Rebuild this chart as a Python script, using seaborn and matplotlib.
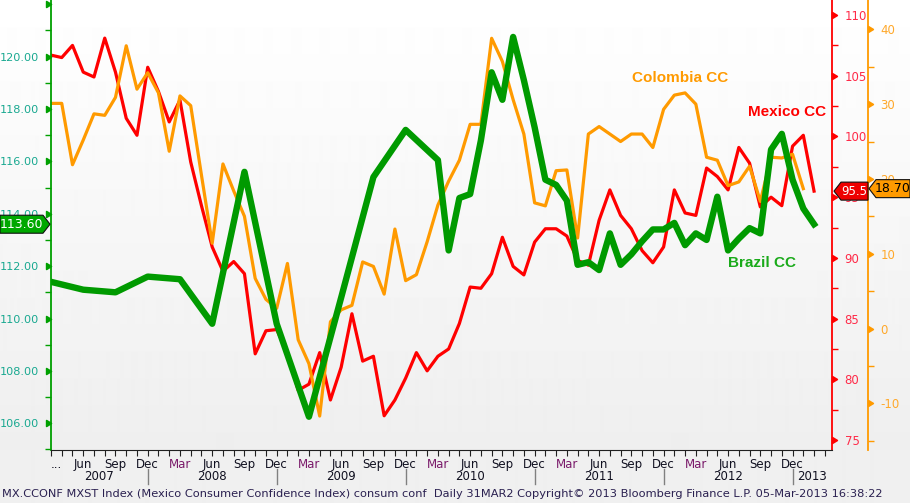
import numpy as np
import pandas as pd
import seaborn as sns
import matplotlib.pyplot as plt
import matplotlib.transforms as mtransforms
from matplotlib.path import Path
from matplotlib.patches import Polygon

# monthly observations, Mar 2007 .. Feb 2013 (month index 0 = Mar 2007)
mexico_cc = [106.7, 106.5, 107.5, 105.3, 104.9, 108.1, 105.3, 101.5, 100.1, 105.7,
             103.7, 101.2, 103.0, 97.9, 94.3, 90.9, 88.9, 89.7, 88.7, 82.1,
             84.0, 84.1, 82.2, 79.1, 79.6, 82.2, 78.3, 81.0, 85.4, 81.5,
             81.9, 77.0, 78.3, 80.1, 82.2, 80.7, 81.9, 82.5, 84.6, 87.6,
             87.5, 88.7, 91.7, 89.3, 88.6, 91.3, 92.4, 92.4, 91.8, 89.8,
             89.4, 93.1, 95.6, 93.5, 92.4, 90.6, 89.6, 90.9, 95.6, 93.7,
             93.5, 97.4, 96.7, 95.6, 99.1, 97.8, 94.2, 95.0, 94.3, 99.2,
             100.1, 95.5]

colombia_cc = [30.1, 30.1, 21.9, 25.2, 28.7, 28.5, 30.9, 37.8, 32.0, 34.2,
               31.5, 23.7, 31.1, 29.8, 20.5, 11.4, 22.0, 18.4, 15.0, 6.7,
               3.9, 2.7, 8.7, -1.5, -4.7, -11.7, 0.9, 2.5, 3.1, 8.9,
               8.3, 4.6, 13.3, 6.4, 7.2, 11.6, 16.5, 19.7, 22.5, 27.3,
               27.3, 38.8, 35.7, 30.6, 26.0, 16.8, 16.4, 21.1, 21.2, 12.1,
               26.0, 27.0, 26.0, 25.0, 26.0, 26.0, 24.2, 29.3, 31.2, 31.5,
               30.0, 22.9, 22.5, 19.1, 19.6, 21.7, 17.0, 22.9, 22.8, 23.3,
               18.7]

# Brazil is quarterly until Mar 2010, monthly after
brazil_months = [0, 3, 6, 9, 12, 15, 18, 21, 24, 27, 30, 33, 36, 37, 38, 39, 40,
                 41, 42, 43, 44, 45, 46, 47, 48, 49, 50, 51, 52, 53, 54, 55, 56,
                 57, 58, 59, 60, 61, 62, 63, 64, 65, 66, 67, 68, 69, 70, 71]
brazil_cc = [111.4, 111.1, 111.0, 111.6, 111.5, 109.8, 115.6, 109.8, 106.25, 110.8,
             115.4, 117.2, 116.05, 112.6, 114.6, 114.75, 116.8, 119.4, 118.35, 120.75,
             119.1, 117.3, 115.3, 115.1, 114.5, 112.05, 112.15, 111.85, 113.25, 112.05,
             112.45, 112.95, 113.4, 113.4, 113.65, 112.8, 113.25, 113.0, 114.65, 112.6,
             113.05, 113.45, 113.25, 116.45, 117.05, 115.3, 114.2, 113.6]

month_names = ['Mar', 'Jun', 'Sep', 'Dec']
year_labels = ['2007', '2008', '2009', '2010', '2011', '2012', '2013']

footer = ('MX.CCONF MXST Index (Mexico Consumer Confidence Index) consum conf  '
          'Daily 31MAR2 Copyright\u00a9 2013 Bloomberg Finance L.P. 05-Mar-2013 16:38:22')

GREEN, RED, ORANGE = '#009a00', '#ff0000', '#ff9a00'

mx_df = pd.DataFrame({'month': range(len(mexico_cc)), 'value': mexico_cc})
co_df = pd.DataFrame({'month': range(len(colombia_cc)), 'value': colombia_cc})
br_df = pd.DataFrame({'month': brazil_months, 'value': brazil_cc})

plt.rcParams['font.family'] = 'DejaVu Sans'
plt.rcParams['axes.unicode_minus'] = False
fig = plt.figure(figsize=(9.1, 5.03), dpi=100)
W, H = 910, 503

# background gradient
bg = fig.add_axes([0, 0, 1, 1], zorder=-10)
rows = np.arange(H)
shade = np.where(rows < 450, 1.0 - 0.065 * rows / 450, 0.94)
bg.imshow(shade[:, None], aspect='auto', cmap='gray', vmin=0, vmax=1,
          extent=(0, 1, 0, 1), interpolation='bilinear')
bg.axis('off')

ax = fig.add_axes([51 / W, 1 - 450 / H, 781 / W, 450 / H])
ax_mx = ax.twinx()
ax_co = ax.twinx()
ax_co.spines['right'].set_position(('axes', 1 + 36 / 781))
ax.set_zorder(ax_co.get_zorder() + 1)
ax.patch.set_visible(False)

sns.lineplot(data=co_df, x='month', y='value', ax=ax_co, color=ORANGE, linewidth=2.3)
sns.lineplot(data=mx_df, x='month', y='value', ax=ax_mx, color=RED, linewidth=2.3)
sns.lineplot(data=br_df, x='month', y='value', ax=ax, color=GREEN, linewidth=4.6)

ax.set_xlim(0, 72.67)
ax.set_ylim(104.98, 122.16)
ax_mx.set_ylim(74.18, 111.24)
ax_co.set_ylim(-16.24, 43.92)
for a in (ax, ax_mx, ax_co):
    a.set_xlabel('')
    a.set_ylabel('')

for s in ['top', 'right']:
    ax.spines[s].set_visible(False)
ax.spines['left'].set_color('#00a000')
ax.spines['left'].set_linewidth(1.3)
ax.spines['bottom'].set_color('#202020')
for a, col in ((ax_mx, RED), (ax_co, ORANGE)):
    for s in ['top', 'left', 'bottom']:
        a.spines[s].set_visible(False)
    a.spines['right'].set_color(col)
    a.spines['right'].set_linewidth(1.3)

# y ticks
tri_in = Path([(-1, -0.6), (0, 0), (-1, 0.6), (-1, -0.6)],
              [Path.MOVETO, Path.LINETO, Path.LINETO, Path.CLOSEPOLY])
tri_out = Path([(0, -0.6), (1, 0), (0, 0.6), (0, -0.6)],
               [Path.MOVETO, Path.LINETO, Path.LINETO, Path.CLOSEPOLY])

ax.set_yticks(np.arange(106, 123, 2))
ax.set_yticklabels([f'{v:.2f}' if v < 122 else '' for v in range(106, 123, 2)])
ax.set_yticks(np.arange(105, 122, 2), minor=True)
ax_mx.set_yticks(np.arange(75, 111, 5))
ax_mx.set_yticks(np.arange(77.5, 111, 5), minor=True)
ax_co.set_yticks(np.arange(-10, 41, 10))
ax_co.set_yticks(np.arange(-15, 41, 10), minor=True)

for a, col, lab, marker, size in ((ax, '#00a000', '#18a890', tri_in, 8.1),
                                  (ax_mx, RED, '#ff2a48', tri_out, 8.5),
                                  (ax_co, ORANGE, '#ffa82a', tri_out, 8.5)):
    a.tick_params(axis='y', which='major', colors=col, labelcolor=lab, length=6,
                  width=1.2, pad=3, labelsize=size)
    a.tick_params(axis='y', which='minor', colors=col, length=4, width=1)
    for t in a.yaxis.get_major_ticks():
        for ln in (t.tick1line, t.tick2line):
            ln.set_marker(marker)
            ln.set_markersize(7)

# x ticks: months
ax.set_xticks(np.arange(0, 72, 3))
labels = ['...'] + [month_names[(i // 3) % 4] for i in range(3, 72, 3)]
ax.set_xticklabels(labels)
ax.set_xticks(np.arange(0, 73, 1), minor=True)
ax.tick_params(axis='x', which='both', direction='out', length=4, width=0.8,
               colors='#202020', pad=2, labelsize=8.5)
for t, txt in zip(ax.get_xticklabels(), labels):
    t.set_color('#7a1a6a' if txt == 'Mar' else '#101020')
ax.get_xticklabels()[0].set_horizontalalignment('left')

# year row
trans = mtransforms.blended_transform_factory(ax.transData, ax.transAxes)
bounds = [0, 9, 21, 33, 45, 57, 69, 72.67]
for k, yr in enumerate(year_labels):
    ax.text((bounds[k] + bounds[k + 1]) / 2, -27 / 450, yr, transform=trans,
            ha='center', va='center', fontsize=8.5, color='#101020')
for b in bounds[1:-1]:
    ax.plot([b, b], [-19 / 450, -34 / 450], transform=trans, color='#808080',
            linewidth=1, clip_on=False)

fig.text(2 / W, 1 - 494 / H, footer, ha='left', va='center', fontsize=8.2,
         color='#2a2050')

# series names
ax.text(0.805, 0.827, 'Colombia CC', transform=ax.transAxes, color=ORANGE,
        fontsize=11, fontweight='bold', ha='center', va='center', family='Liberation Sans')
ax.text(0.942, 0.751, 'Mexico CC', transform=ax.transAxes, color=RED,
        fontsize=11, fontweight='bold', ha='center', va='center', family='Liberation Sans')
ax.text(0.91, 0.416, 'Brazil CC', transform=ax.transAxes, color='#1aaa1a',
        fontsize=11, fontweight='bold', ha='center', va='center', family='Liberation Sans')

# last value tags
ident = mtransforms.IdentityTransform()


def tag(axis, value, text, x_tip, x_far, face, tcol, size=9):
    yd = axis.transData.transform((0, value))[1]
    h = 9
    d = 7 if x_far > x_tip else -7
    pts = [(x_tip, yd), (x_tip + d, yd + h), (x_far, yd + h), (x_far, yd - h),
           (x_tip + d, yd - h)]
    fig.add_artist(Polygon(pts, closed=True, transform=ident, facecolor=face,
                           edgecolor='#101010', linewidth=0.8, zorder=20))
    fig.text((x_tip + d + x_far) / 2, yd, text, transform=ident, ha='center',
             va='center', color=tcol, fontsize=size, zorder=21)


tag(ax, brazil_cc[-1], f'{brazil_cc[-1]:.2f}', 50, 0, '#00a800', 'white')
tag(ax_mx, mexico_cc[-1], f'{mexico_cc[-1]:.1f}', 834, 868, '#ee0000', 'white', 8.5)
tag(ax_co, colombia_cc[-1], f'{colombia_cc[-1]:.2f}', 869, 910, ORANGE, 'black')

fig.savefig('out.png', dpi=100)
